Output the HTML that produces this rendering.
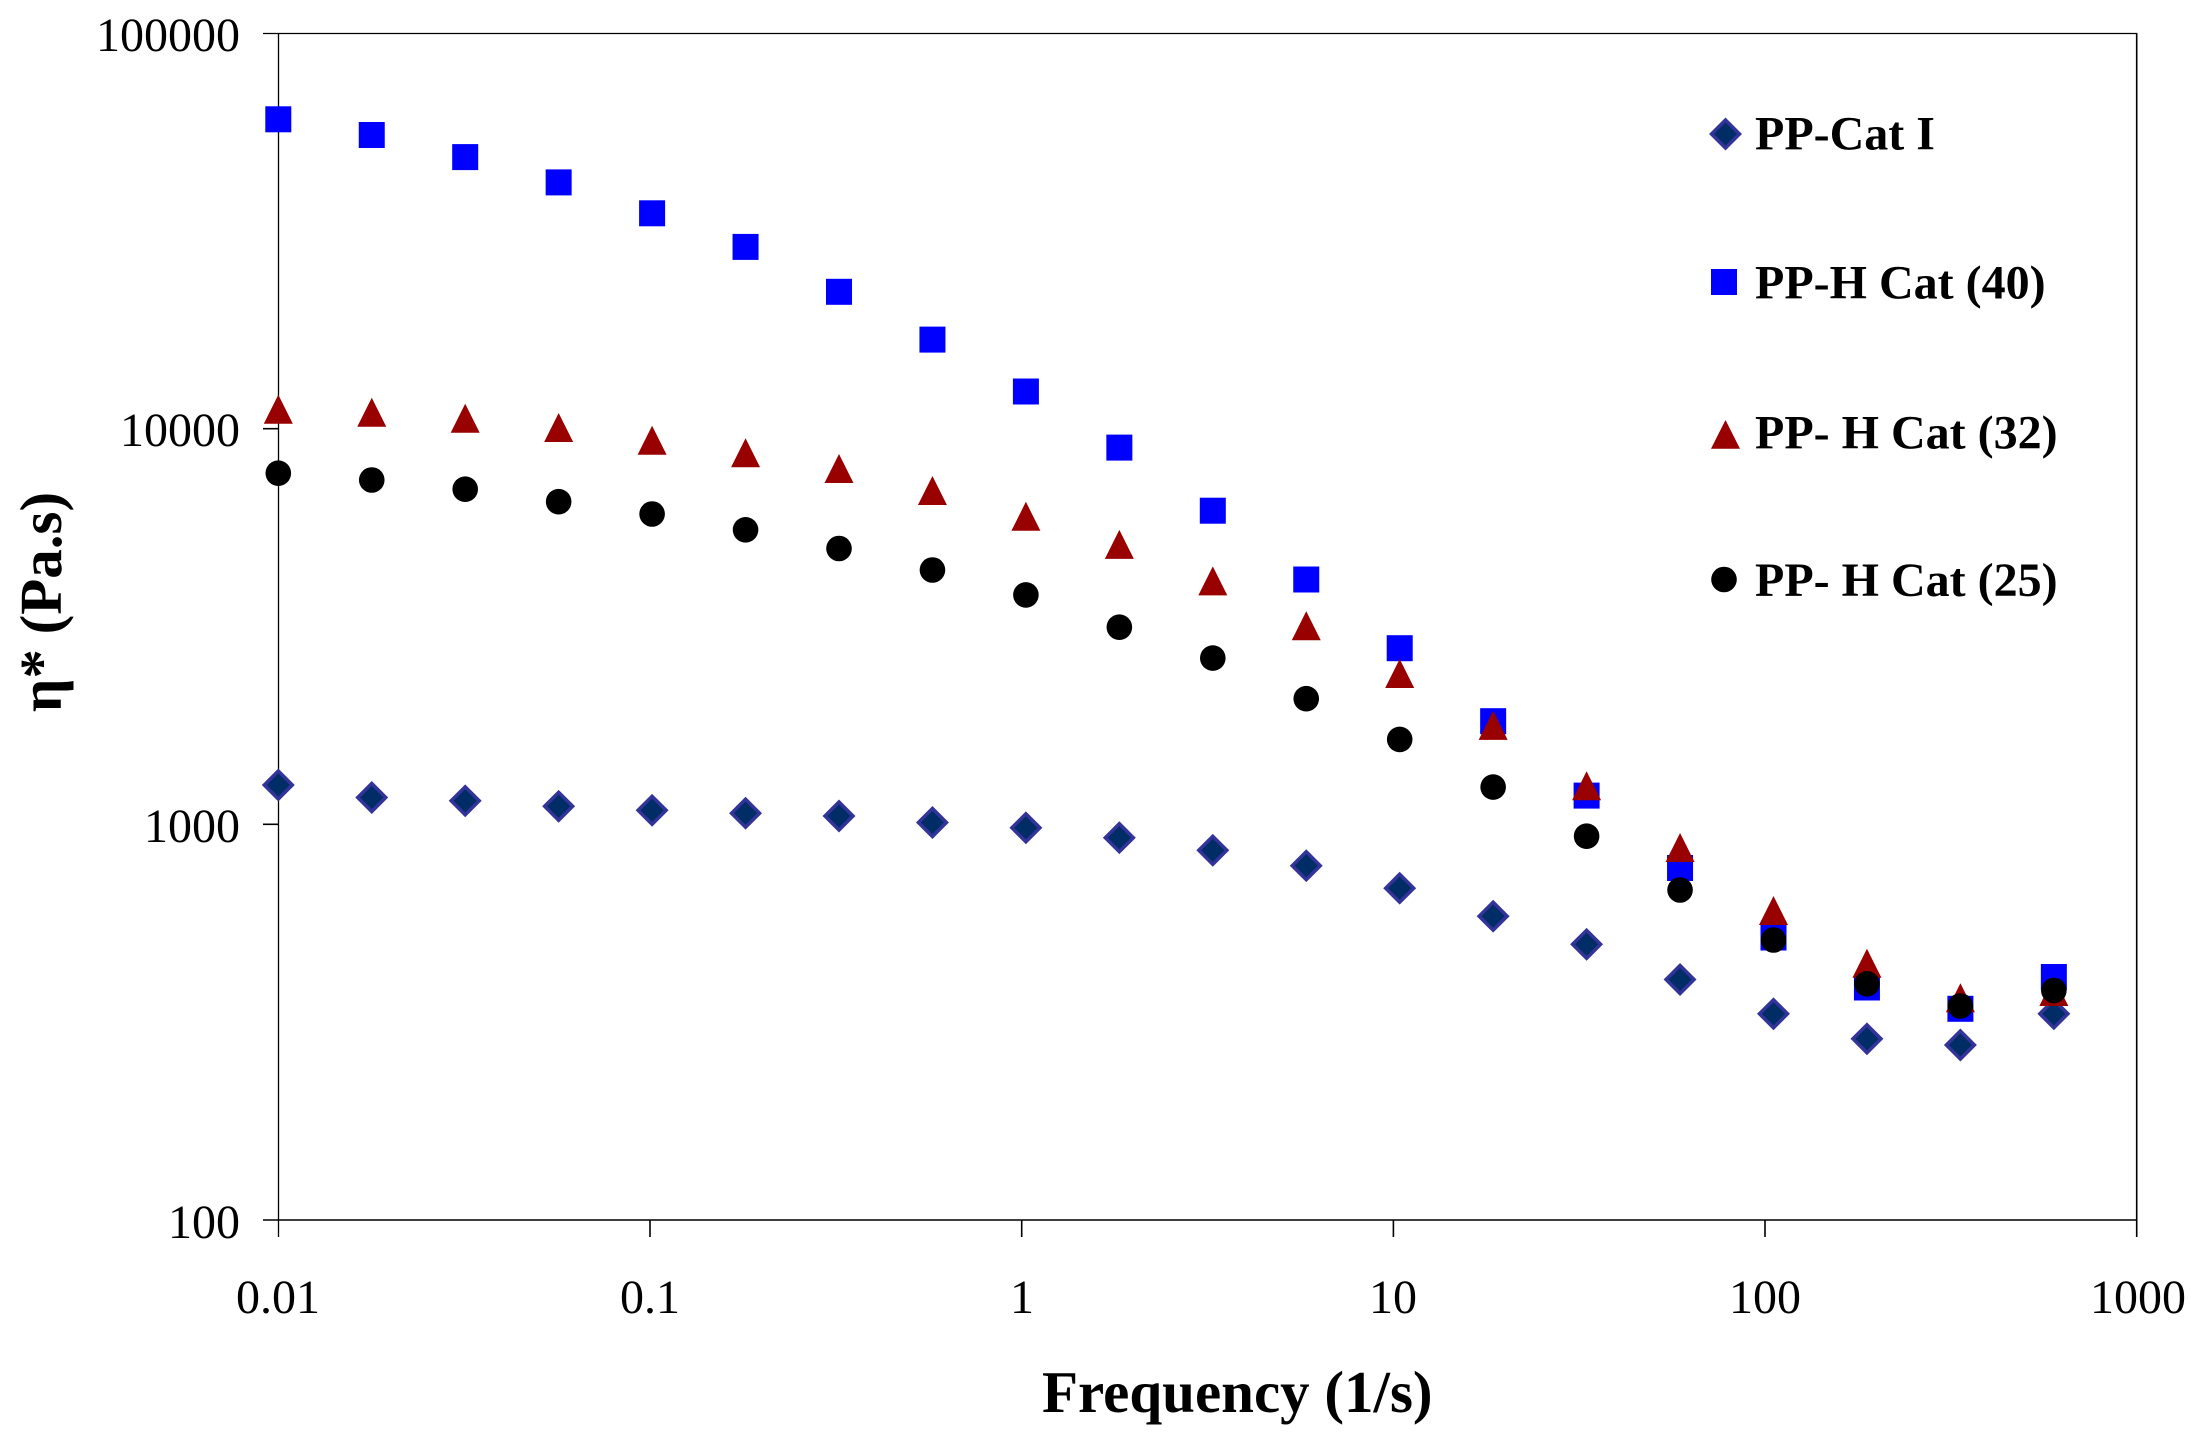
<!DOCTYPE html>
<html>
<head>
<meta charset="utf-8">
<style>
html,body{margin:0;padding:0;background:#fff;}
svg{display:block;}
</style>
</head>
<body>
<svg xmlns="http://www.w3.org/2000/svg" width="2200" height="1441" viewBox="0 0 2200 1441">
<rect width="2200" height="1441" fill="#fff"/>
<g stroke="#000" fill="none">
  <line x1="263" y1="33.5" x2="2137" y2="33.5" stroke-width="1.3"/>
  <line x1="278.5" y1="33" x2="278.5" y2="1237" stroke-width="1.3"/>
  <line x1="263" y1="1220" x2="2137" y2="1220" stroke-width="1.6"/>
  <line x1="2136.7" y1="33" x2="2136.7" y2="1237" stroke-width="1.6"/>
  <line x1="263" y1="428.7" x2="278.5" y2="428.7" stroke-width="1.6"/>
  <line x1="263" y1="824.3" x2="278.5" y2="824.3" stroke-width="1.6"/>
  <line x1="650" y1="1220" x2="650" y2="1237" stroke-width="1.6"/>
  <line x1="1021.7" y1="1220" x2="1021.7" y2="1237" stroke-width="1.6"/>
  <line x1="1393.4" y1="1220" x2="1393.4" y2="1237" stroke-width="1.6"/>
  <line x1="1765" y1="1220" x2="1765" y2="1237" stroke-width="1.6"/>
</g>
<g font-family="Liberation Serif, Times New Roman, serif" font-size="48" fill="#000" text-anchor="end">
  <text x="240" y="51">100000</text>
  <text x="240" y="446">10000</text>
  <text x="240" y="842">1000</text>
  <text x="240" y="1238">100</text>
</g>
<g font-family="Liberation Serif, Times New Roman, serif" font-size="48" fill="#000" text-anchor="middle">
  <text x="278" y="1313">0.01</text>
  <text x="650" y="1313">0.1</text>
  <text x="1022" y="1313">1</text>
  <text x="1393" y="1313">10</text>
  <text x="1765" y="1313">100</text>
  <text x="2138" y="1313">1000</text>
</g>
<text x="1042" y="1412" font-family="Liberation Serif, Times New Roman, serif" font-size="59" font-weight="bold" fill="#000">Frequency (1/s)</text>
<text transform="translate(61,602) rotate(-90)" text-anchor="middle" font-family="Liberation Serif, DejaVu Serif, serif" font-size="59" font-weight="bold" fill="#000">η* (Pa.s)</text>

<!-- PP-Cat I diamonds -->
<g fill="#002D66" stroke="#333399" stroke-width="3.5" stroke-linejoin="miter">
  <path d="M278.3,771 L292.3,785 L278.3,799 L264.3,785 Z"/>
  <path d="M371.75,783.5 L385.75,797.5 L371.75,811.5 L357.75,797.5 Z"/>
  <path d="M465.2,786.8 L479.2,800.8 L465.2,814.8 L451.2,800.8 Z"/>
  <path d="M558.65,792.3 L572.65,806.3 L558.65,820.3 L544.65,806.3 Z"/>
  <path d="M652.1,796.3 L666.1,810.3 L652.1,824.3 L638.1,810.3 Z"/>
  <path d="M745.55,799.2 L759.55,813.2 L745.55,827.2 L731.55,813.2 Z"/>
  <path d="M839,802 L853,816 L839,830 L825,816 Z"/>
  <path d="M932.45,808.5 L946.45,822.5 L932.45,836.5 L918.45,822.5 Z"/>
  <path d="M1025.9,813.8 L1039.9,827.8 L1025.9,841.8 L1011.9,827.8 Z"/>
  <path d="M1119.35,823.7 L1133.35,837.7 L1119.35,851.7 L1105.35,837.7 Z"/>
  <path d="M1212.8,836.3 L1226.8,850.3 L1212.8,864.3 L1198.8,850.3 Z"/>
  <path d="M1306.25,851.7 L1320.25,865.7 L1306.25,879.7 L1292.25,865.7 Z"/>
  <path d="M1399.7,874.2 L1413.7,888.2 L1399.7,902.2 L1385.7,888.2 Z"/>
  <path d="M1493.15,902.2 L1507.15,916.2 L1493.15,930.2 L1479.15,916.2 Z"/>
  <path d="M1586.6,930.3 L1600.6,944.3 L1586.6,958.3 L1572.6,944.3 Z"/>
  <path d="M1680.05,965.5 L1694.05,979.5 L1680.05,993.5 L1666.05,979.5 Z"/>
  <path d="M1773.5,999.8 L1787.5,1013.8 L1773.5,1027.8 L1759.5,1013.8 Z"/>
  <path d="M1866.95,1024.8 L1880.95,1038.8 L1866.95,1052.8 L1852.95,1038.8 Z"/>
  <path d="M1960.4,1031 L1974.4,1045 L1960.4,1059 L1946.4,1045 Z"/>
  <path d="M2053.85,999.8 L2067.85,1013.8 L2053.85,1027.8 L2039.85,1013.8 Z"/>
</g>

<!-- PP-H Cat (40) squares -->
<g fill="#0000FF">
  <rect x="265.3" y="106.3" width="26" height="26"/>
  <rect x="358.75" y="122" width="26" height="26"/>
  <rect x="452.2" y="144.1" width="26" height="26"/>
  <rect x="545.65" y="169.4" width="26" height="26"/>
  <rect x="639.1" y="200.3" width="26" height="26"/>
  <rect x="732.55" y="233.9" width="26" height="26"/>
  <rect x="826" y="278.8" width="26" height="26"/>
  <rect x="919.45" y="326.6" width="26" height="26"/>
  <rect x="1012.9" y="378.5" width="26" height="26"/>
  <rect x="1106.35" y="434.6" width="26" height="26"/>
  <rect x="1199.8" y="497.7" width="26" height="26"/>
  <rect x="1293.25" y="566.5" width="26" height="26"/>
  <rect x="1386.7" y="635.2" width="26" height="26"/>
  <rect x="1480.15" y="708.2" width="26" height="26"/>
  <rect x="1573.6" y="782.6" width="26" height="26"/>
  <rect x="1667.05" y="855" width="26" height="26"/>
  <rect x="1760.5" y="924.5" width="26" height="26"/>
  <rect x="1853.95" y="974.5" width="26" height="26"/>
  <rect x="1947.4" y="995.8" width="26" height="26"/>
  <rect x="2040.85" y="964" width="26" height="26"/>
</g>

<!-- PP- H Cat (32) triangles -->
<g fill="#990000">
  <path d="M278.3,394.7 L292.8,423.7 L263.8,423.7 Z"/>
  <path d="M371.75,397.7 L386.25,426.7 L357.25,426.7 Z"/>
  <path d="M465.2,403.8 L479.7,432.8 L450.7,432.8 Z"/>
  <path d="M558.65,413 L573.15,442 L544.15,442 Z"/>
  <path d="M652.1,425.7 L666.6,454.7 L637.6,454.7 Z"/>
  <path d="M745.55,438.3 L760.05,467.3 L731.05,467.3 Z"/>
  <path d="M839,454 L853.5,483 L824.5,483 Z"/>
  <path d="M932.45,476 L946.95,505 L917.95,505 Z"/>
  <path d="M1025.9,501.8 L1040.4,530.8 L1011.4,530.8 Z"/>
  <path d="M1119.35,529.9 L1133.85,558.9 L1104.85,558.9 Z"/>
  <path d="M1212.8,566.4 L1227.3,595.4 L1198.3,595.4 Z"/>
  <path d="M1306.25,611.3 L1320.75,640.3 L1291.75,640.3 Z"/>
  <path d="M1399.7,659 L1414.2,688 L1385.2,688 Z"/>
  <path d="M1493.15,710.9 L1507.65,739.9 L1478.65,739.9 Z"/>
  <path d="M1586.6,771.2 L1601.1,800.2 L1572.1,800.2 Z"/>
  <path d="M1680.05,833 L1694.55,862 L1665.55,862 Z"/>
  <path d="M1773.5,896 L1788,925 L1759,925 Z"/>
  <path d="M1866.95,948.8 L1881.45,977.8 L1852.45,977.8 Z"/>
  <path d="M1960.4,983.3 L1974.9,1012.3 L1945.9,1012.3 Z"/>
  <path d="M2053.85,977 L2068.35,1006 L2039.35,1006 Z"/>
</g>

<!-- PP- H Cat (25) circles -->
<g fill="#000">
  <circle cx="278.3" cy="473.2" r="12.8"/>
  <circle cx="371.75" cy="480" r="12.8"/>
  <circle cx="465.2" cy="489.2" r="12.8"/>
  <circle cx="558.65" cy="501.7" r="12.8"/>
  <circle cx="652.1" cy="514" r="12.8"/>
  <circle cx="745.55" cy="529.8" r="12.8"/>
  <circle cx="839" cy="548.5" r="12.8"/>
  <circle cx="932.45" cy="570" r="12.8"/>
  <circle cx="1025.9" cy="594.9" r="12.8"/>
  <circle cx="1119.35" cy="627.2" r="12.8"/>
  <circle cx="1212.8" cy="658.1" r="12.8"/>
  <circle cx="1306.25" cy="698.7" r="12.8"/>
  <circle cx="1399.7" cy="739.4" r="12.8"/>
  <circle cx="1493.15" cy="787.1" r="12.8"/>
  <circle cx="1586.6" cy="836.2" r="12.8"/>
  <circle cx="1680.05" cy="890" r="12.8"/>
  <circle cx="1773.5" cy="940" r="12.8"/>
  <circle cx="1866.95" cy="983.8" r="12.8"/>
  <circle cx="1960.4" cy="1006" r="12.8"/>
  <circle cx="2053.85" cy="990.5" r="12.8"/>
</g>

<!-- Legend -->
<path d="M1725.5,120 L1739.5,134 L1725.5,148 L1711.5,134 Z" fill="#002D66" stroke="#333399" stroke-width="3.5"/>
<rect x="1711" y="269" width="26" height="26" fill="#0000FF"/>
<path d="M1725.5,420 L1740,448.7 L1711,448.7 Z" fill="#990000"/>
<circle cx="1724" cy="579.5" r="12.8" fill="#000"/>
<g font-family="Liberation Serif, Times New Roman, serif" font-size="48" font-weight="bold" fill="#000">
  <text x="1755" y="149.5">PP-Cat I</text>
  <text x="1755" y="298.5">PP-H Cat (40)</text>
  <text x="1755" y="448.7">PP- H Cat (32)</text>
  <text x="1755" y="596">PP- H Cat (25)</text>
</g>
</svg>
</body>
</html>
